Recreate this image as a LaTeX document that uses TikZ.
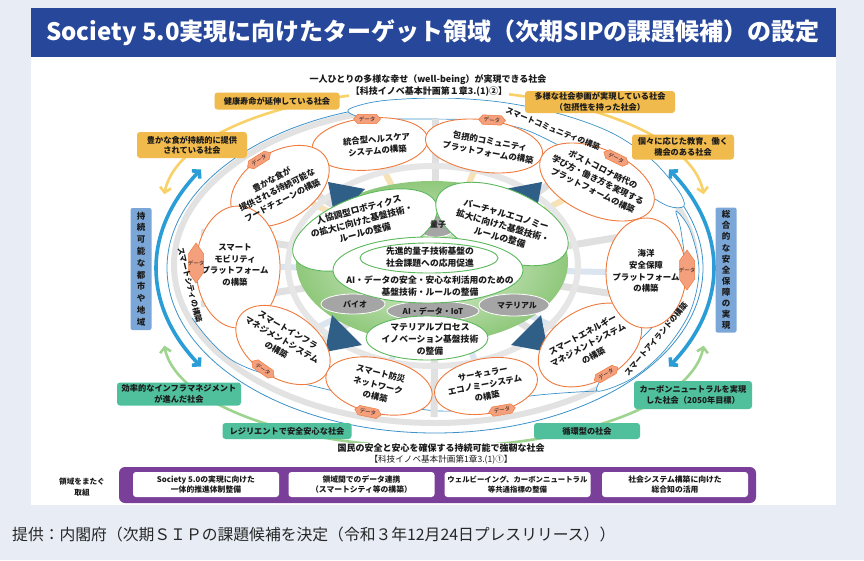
\documentclass[tikz,border=0pt]{standalone}
\usepackage{fontspec}
\setmainfont{Noto Sans CJK JP}
\usetikzlibrary{shapes.geometric,shapes.symbols,arrows.meta}
\definecolor{bgc}{HTML}{E8EDF5}
\definecolor{titlec}{HTML}{26479A}
\definecolor{yelbox}{HTML}{F0BA4C}
\definecolor{yelarc}{HTML}{F9D169}
\definecolor{bluebox}{HTML}{7BA7D8}
\definecolor{bluearc}{HTML}{2A9CD6}
\definecolor{thinblue}{HTML}{3C92C8}
\definecolor{grnbox}{HTML}{4FBF9C}
\definecolor{grnarc}{HTML}{9ED48F}
\definecolor{purp}{HTML}{7A3F98}
\definecolor{orng}{HTML}{F07A3E}
\definecolor{badgef}{HTML}{F5A07C}
\definecolor{grnline}{HTML}{5CB85C}
\definecolor{graysm}{HTML}{A5A5A5}
\definecolor{darkarr}{HTML}{2F5E86}
\definecolor{spokeg}{HTML}{E0E0E0}
\definecolor{ringg}{HTML}{E6E6E6}
\definecolor{spokey}{HTML}{F7E2B8}
\definecolor{spokeb}{HTML}{DAE5F0}
\definecolor{diskout}{HTML}{8FC87B}
\definecolor{diskin}{HTML}{E9F4E2}
\definecolor{shadowg}{HTML}{E2E2E2}
\definecolor{txt}{HTML}{1A1A1A}
\tikzset{
  oell/.style={ellipse, draw=orng, line width=0.9pt, fill=white, inner sep=0pt},
  gell/.style={ellipse, draw=grnline, line width=0.9pt, fill=white, inner sep=0pt},
  sell/.style={ellipse, fill=graysm, draw=white, line width=0.8pt, inner sep=0pt},
  etxt/.style={align=center, inner sep=0pt, text=txt, font=\fontsize{8.4}{11.6}\selectfont\bfseries},
  ctxt/.style={align=center, inner sep=0pt, text=txt, font=\fontsize{8.8}{11.8}\selectfont\bfseries},
  stxt/.style={inner sep=0pt, text=txt, font=\fontsize{8}{9}\selectfont\bfseries},
  ltxt/.style={inner sep=0pt, text=txt, font=\fontsize{7.8}{9}\selectfont\bfseries},
  badge/.style={signal, signal to=east and west, signal pointer angle=95, fill=badgef, draw=orng, line width=0.5pt, inner xsep=1pt, inner ysep=2.2pt, font=\fontsize{5.5}{5.5}\selectfont, text=txt},
  vbadge/.style={signal, signal to=east and west, signal pointer angle=70, fill=badgef, draw=orng, line width=0.5pt, inner sep=0pt, minimum width=40pt, minimum height=15pt, rotate=90},
  btxt/.style={inner sep=0pt, text=txt, font=\fontsize{5.5}{5.5}\selectfont},
  lbl/.style={rounded corners=3pt, align=center, inner sep=0pt, text=txt, font=\fontsize{8.2}{10.4}\selectfont\bfseries},
  ylbl/.style={lbl, fill=yelbox},
  glbl/.style={lbl, fill=grnbox},
  vlbl/.style={lbl, fill=bluebox, rounded corners=2pt},
  wbox/.style={lbl, fill=white, font=\fontsize{7.8}{10}\selectfont\bfseries, minimum width=146pt, minimum height=25pt},
  lobe/.style={draw=thinblue, line width=0.7pt, fill=white},
  barbs/.style={{Straight Barb[length=5pt,width=11pt]}-{Straight Barb[length=5pt,width=11pt]}},
  spk/.style={line width=7pt, spokeg},
  yspk/.style={line width=6pt, spokey},
  bspk/.style={line width=6pt, spokeb},
}
\begin{document}
\begin{tikzpicture}[x=1pt,y=-1pt]
\useasboundingbox (0,0) rectangle (864,560);
\fill[bgc] (0,0) rectangle (864,560);
\fill[white] (31,57) rectangle (836,505);
\node[fill=titlec, minimum width=805pt, minimum height=49pt, inner sep=0pt, anchor=north west] (tbar) at (31,8) {};
\node[text=white, inner sep=0pt, font=\fontsize{24}{24}\selectfont\bfseries] (title) at (433,33) {Society 5.0実現に向けたターゲット領域（次期SIPの課題候補）の設定};

% outer arcs
\draw[yelarc, line width=2.6pt, barbs] plot[domain=183:357, samples=90] ({434+270*cos(\x)},{200+110*sin(\x)});
\draw[grnarc, line width=2.6pt, barbs] plot[domain=3:177, samples=90] ({434+270*cos(\x)},{340+107*sin(\x)});
\draw[bluearc, line width=3.6pt, barbs] plot[domain=147:213, samples=60] ({435+279*cos(\x)},{268+181*sin(\x)});
\draw[bluearc, line width=3.6pt, barbs] plot[domain=-33:33, samples=60] ({435+279*cos(\x)},{268+181*sin(\x)});

% city boundary, shadow, lobes
\coordinate (hub) at (435,268);
\draw[shadowg, line width=6pt] (435,265) ellipse [x radius=261, y radius=158];
\draw[thinblue, line width=0.8pt] (hub) ellipse [x radius=268, y radius=165];
\draw[lobe] plot[smooth cycle, tension=0.55] coordinates {(348,110) (380,101) (440,98) (500,102) (560,114) (612,133) (652,160) (678,190) (684,206) (668,206) (640,190) (600,168) (560,146) (520,128) (470,120) (410,119) (365,118)};
\draw[lobe] plot[smooth cycle, tension=0.55] coordinates {(676,211) (690,230) (699,270) (690,312) (664,351) (631,379) (597,391) (610,367) (638,342) (668,308) (684,270) (681,231)};
\draw[thinblue, line width=0.7pt] plot[smooth, tension=0.6] coordinates {(192,318) (235,362) (317,387) (440,411) (530,396) (597,391)};

% ellipse centres
\coordinate (c1) at (370,144);
\coordinate (c2) at (484,146);
\coordinate (c3) at (597,182);
\coordinate (c4) at (280,186);
\coordinate (c5) at (238,267);
\coordinate (c6) at (283,345);
\coordinate (c7) at (379,386);
\coordinate (c8) at (486,386);
\coordinate (c9) at (590,345);
\coordinate (c10) at (646,273);

% spokes
\coordinate (sp1) at (435,119);
\coordinate (sp2) at (590,154);
\coordinate (sp3) at (668,229);
\coordinate (sp4) at (670,302);
\coordinate (sp5) at (602,375);
\coordinate (sp6) at (434,417);
\coordinate (sp7) at (268,375);
\coordinate (sp8) at (201,304);
\coordinate (sp9) at (201,232);
\coordinate (sp10) at (265,163);
\foreach \i in {1,...,10} \draw[spk] (hub) -- (sp\i);
\foreach \i in {1,2,3,4} \draw[yspk] (hub) -- (c\i);
\foreach \i in {5,6,7,8,9,10} \draw[bspk] (hub) -- (c\i);

% ring, disk, arrows
\draw[ringg, line width=6pt] (433,266) ellipse [x radius=145, y radius=100];
\node[ellipse, minimum width=272pt, minimum height=162pt, inner color=diskin, outer color=diskout, inner sep=0pt] (disk) at (432,262) {};
\fill[darkarr] (328,182) -- (365,189) -- (335,219) -- cycle;
\fill[darkarr] (542,182) -- (505,189) -- (535,219) -- cycle;
\fill[darkarr] (325,352) -- (332,315) -- (362,345) -- cycle;
\fill[darkarr] (548,352) -- (511,345) -- (541,315) -- cycle;

% orange ellipses
\node[oell, minimum width=116pt, minimum height=52pt, rotate=5] (e1) at (c1) {};
\node[oell, minimum width=118pt, minimum height=52pt, rotate=-8] (e2) at (c2) {};
\node[oell, minimum width=122pt, minimum height=66pt, rotate=-24] (e3) at (c3) {};
\node[oell, minimum width=108pt, minimum height=68pt, rotate=32] (e4) at (c4) {};
\node[oell, minimum width=84pt, minimum height=122pt] (e5) at (c5) {};
\node[oell, minimum width=104pt, minimum height=66pt, rotate=-33] (e6) at (c6) {};
\node[oell, minimum width=108pt, minimum height=55pt, rotate=-12] (e7) at (c7) {};
\node[oell, minimum width=104pt, minimum height=55pt, rotate=10] (e8) at (c8) {};
\node[oell, minimum width=112pt, minimum height=72pt, rotate=30] (e9) at (c9) {};
\node[oell, minimum width=80pt, minimum height=110pt] (e10) at (c10) {};

\node[etxt, rotate=5] (t1) at (377,145) {統合型ヘルスケア\\システムの構築};
\node[etxt, rotate=-10] (t2) at (489,147) {包摂的コミュニティ\\プラットフォームの構築};
\node[etxt, rotate=-26] (t3) at (598,180) {ポストコロナ時代の\\学び方・働き方を実現する\\プラットフォームの構築};
\node[etxt, rotate=27] (t4) at (277,190) {豊かな食が\\提供される持続可能な\\フードチェーンの構築};
\node[etxt] (t5) at (235,265) {スマート\\モビリティ\\プラットフォーム\\の構築};
\node[etxt, rotate=-30] (t6) at (282,340) {スマートインフラ\\マネジメントシステム\\の構築};
\node[etxt, rotate=-14] (t7) at (378,385) {スマート防災\\ネットワーク\\の構築};
\node[etxt, rotate=11] (t8) at (485,385) {サーキュラー\\エコノミーシステム\\の構築};
\node[etxt, rotate=28] (t9) at (588,345) {スマートエネルギー\\マネジメントシステム\\の構築};
\node[etxt] (t10) at (646,271) {海洋\\安全保障\\プラットフォーム\\の構築};

% centre cluster
\node[sell, minimum width=40pt, minimum height=22pt] (q) at (436,226) {};
\node[gell, minimum width=152pt, minimum height=68pt, rotate=20] (r1) at (365,230) {};
\node[gell, minimum width=140pt, minimum height=70pt, rotate=-22] (r2) at (502,224) {};
\node[sell, minimum width=64pt, minimum height=20pt] (bio) at (353,304) {};
\node[sell, minimum width=70pt, minimum height=22pt] (mat) at (514,305) {};
\node[sell, minimum width=92pt, minimum height=20pt] (aiot) at (433,311) {};
\node[gell, minimum width=190pt, minimum height=66pt] (ai) at (428,270) {};
\node[gell, minimum width=138pt, minimum height=30pt] (qs) at (429,258) {};
\node[gell, minimum width=122pt, minimum height=44pt] (mp) at (427,338) {};

\node[stxt] (qt) at (438,225) {量子};
\node[stxt] (biot) at (355,304) {バイオ};
\node[stxt] (matt) at (517,306) {マテリアル};
\node[stxt] (aiott) at (433,311) {AI・データ・IoT};
\node[ctxt, rotate=15] (r1t) at (362,221) {人協調型ロボティクス\\の拡大に向けた基盤技術・\\ルールの整備};
\node[ctxt, rotate=-16] (r2t) at (503,226) {バーチャルエコノミー\\拡大に向けた基盤技術・\\ルールの整備};
\node[ctxt] (qst) at (430,257) {先進的量子技術基盤の\\社会課題への応用促進};
\node[ctxt] (ait) at (430,286) {AI・データの安全・安心な利活用のための\\基盤技術・ルールの整備};
\node[ctxt] (mpt) at (430,339) {マテリアルプロセス\\イノベーション基盤技術\\の整備};

% data badges
\node[badge] (d1) at (367,119) {データ};
\node[badge, rotate=-3] (d2) at (492,120) {データ};
\node[badge, rotate=-26] (d3) at (616,158) {データ};
\node[badge, rotate=32] (d4) at (259,160) {データ};
\node[vbadge] (d5) at (196,263) {};
\node[btxt] (d5t) at (d5) {データ};
\node[badge, rotate=-35] (d6) at (263,369) {データ};
\node[badge, rotate=-12] (d7) at (368,412) {データ};
\node[badge, rotate=10] (d8) at (502,410) {データ};
\node[badge, rotate=30] (d9) at (606,374) {データ};
\node[vbadge] (d10) at (687,270) {};
\node[btxt] (d10t) at (d10) {データ};

% lobe labels
\node[ltxt, rotate=-22] (comm) at (553,129) {スマートコミュニティの構築};
\node[ltxt, rotate=50] (isl) at (656,339) {スマートアイランドの構築};
\node[ltxt, rotate=-76] (city) at (190,285) {スマートシティの構築};

% society labels
\node[ylbl, minimum width=125pt, minimum height=17pt] (y1) at (277,101) {健康寿命が延伸している社会};
\node[ylbl, minimum width=150pt, minimum height=22pt] (y2) at (600,102) {多様な社会参画が実現している社会\\（包摂性を持った社会）};
\node[ylbl, minimum width=110pt, minimum height=26pt] (y3) at (192,145) {豊かな食が持続的に提供\\されている社会};
\node[ylbl, minimum width=102pt, minimum height=25pt] (y4) at (683,147) {個々に応じた教育、働く\\機会のある社会};
\node[glbl, minimum width=124pt, minimum height=23pt] (g1) at (179,394) {効率的なインフラマネジメント\\が進んだ社会};
\node[glbl, minimum width=129pt, minimum height=16pt] (g2) at (287,431) {レジリエントで安全安心な社会};
\node[glbl, minimum width=106pt, minimum height=16pt] (g3) at (587,431) {循環型の社会};
\node[glbl, minimum width=118pt, minimum height=28pt] (g4) at (693,395) {カーボンニュートラルを実現\\した社会（2050年目標）};
\node[vlbl, minimum width=21pt, minimum height=122pt, font=\fontsize{8.5}{11.8}\selectfont\bfseries] (v1) at (141,269) {持\\続\\可\\能\\な\\都\\市\\や\\地\\域};
\node[vlbl, minimum width=21pt, minimum height=125pt, font=\fontsize{8.5}{11.1}\selectfont\bfseries] (v2) at (726,270) {総\\合\\的\\な\\安\\全\\保\\障\\の\\実\\現};

% headline texts
\node[inner sep=0pt, text=txt, font=\fontsize{9}{9}\selectfont\bfseries] (top1) at (428,80) {一人ひとりの多様な幸せ（well-being）が実現できる社会};
\node[fill=white, inner sep=1.5pt, text=txt, font=\fontsize{9}{9}\selectfont\bfseries] (top2) at (429,92) {【科技イノベ基本計画第１章3.(1)②】};
\node[fill=white, inner sep=1pt, text=txt, font=\fontsize{9}{9}\selectfont\bfseries] (bot1) at (441,448) {国民の安全と安心を確保する持続可能で強靭な社会};
\node[inner sep=0pt, text=txt, font=\fontsize{8.6}{9}\selectfont] (bot2) at (441,460) {【科技イノベ基本計画第1章3.(1)①】};

% cross-domain bar
\node[fill=purp, rounded corners=6pt, minimum width=637pt, minimum height=36pt, inner sep=0pt] (bar) at (437.5,485) {};
\node[wbox] (w1) at (206,484.5) {Society 5.0の実現に向けた\\一体的推進体制整備};
\node[wbox] (w2) at (361.5,484.5) {領域間でのデータ連携\\（スマートシティ等の構築）};
\node[wbox, font=\fontsize{7.4}{10}\selectfont\bfseries] (w3) at (517.5,484.5) {ウェルビーイング、カーボンニュートラル\\等共通指標の整備};
\node[wbox] (w4) at (675,484.5) {社会システム構築に向けた\\総合知の活用};
\node[lbl, font=\fontsize{7.6}{10.5}\selectfont\bfseries] (cross) at (82,487) {領域をまたぐ\\取組};

\node[anchor=west, inner sep=0pt, text=black!85, font=\fontsize{15.8}{16}\selectfont] (cap) at (12,534) {提供：内閣府（次期ＳＩＰの課題候補を決定（令和３年12月24日プレスリリース））};
\end{tikzpicture}
\end{document}
